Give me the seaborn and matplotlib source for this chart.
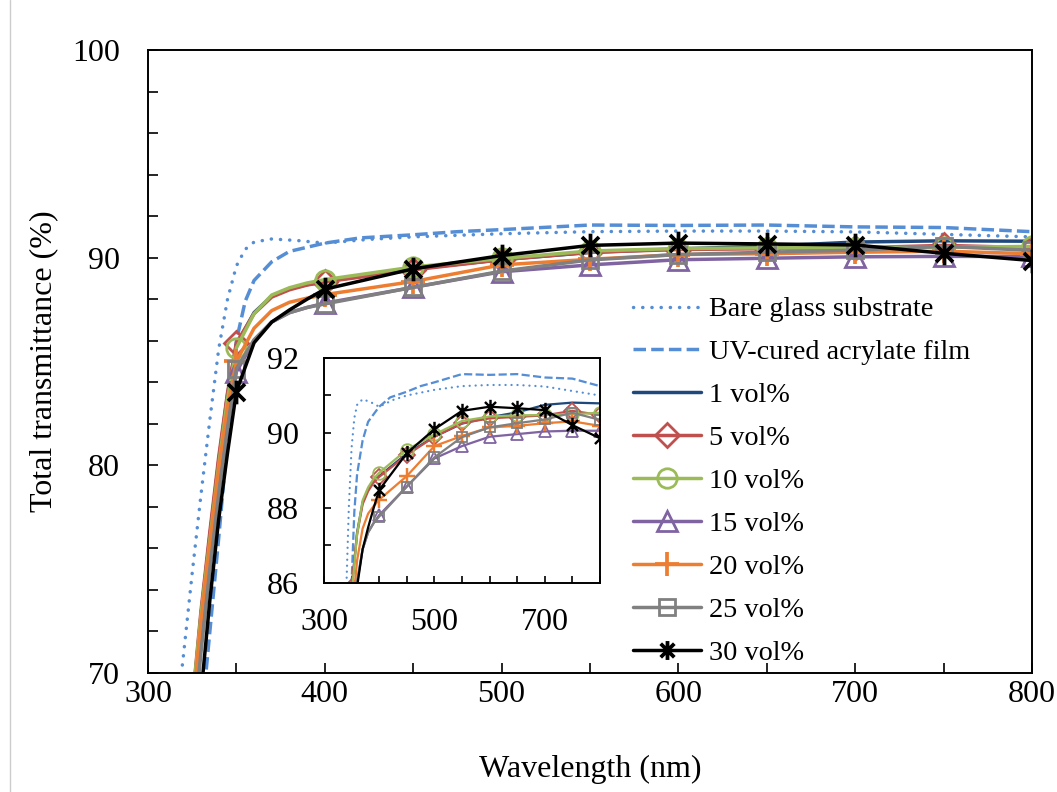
import matplotlib
matplotlib.use("Agg")
import matplotlib.pyplot as plt
import seaborn as sns
from matplotlib.path import Path
from matplotlib.lines import Line2D
from matplotlib.ticker import MultipleLocator, FixedLocator

# wavelengths (nm) shared by the coated samples
wavelength = [320, 325, 330, 335, 340, 345, 350, 360, 370, 380, 390, 400,
              450, 500, 550, 600, 650, 700, 750, 800]

vol1 = [60.0, 68.3, 72.8, 76.6, 80.2, 83.4, 85.8, 87.35, 88.15, 88.5, 88.7, 88.85,
        89.45, 89.9, 90.25, 90.42, 90.55, 90.75, 90.81, 90.79]
vol5 = [60.0, 68.5, 73.0, 76.8, 80.4, 83.5, 85.9, 87.3, 88.1, 88.45, 88.68, 88.83,
        89.41, 89.9, 90.26, 90.39, 90.43, 90.47, 90.59, 90.48]
vol10 = [60.5, 68.5, 72.8, 76.4, 80.0, 83.2, 85.65, 87.3, 88.2, 88.55, 88.78, 88.94,
         89.55, 89.96, 90.32, 90.44, 90.47, 90.48, 90.5, 90.54]
vol15 = [59.0, 67.0, 71.5, 75.2, 78.8, 81.9, 84.5, 86.0, 86.9, 87.35, 87.6, 87.81,
         88.57, 89.32, 89.65, 89.9, 89.97, 90.04, 90.06, 90.06]
vol20 = [62.0, 68.0, 72.5, 76.2, 79.8, 82.8, 85.0, 86.6, 87.45, 87.85, 88.05, 88.22,
         88.85, 89.65, 89.92, 90.15, 90.19, 90.26, 90.31, 90.19]
vol25 = [58.5, 66.5, 71.0, 75.0, 78.6, 81.8, 84.65, 86.05, 86.9, 87.35, 87.6, 87.77,
         88.57, 89.35, 89.89, 90.15, 90.26, 90.36, 90.54, 90.35]
vol30 = [59.0, 64.5, 69.0, 73.5, 77.4, 80.6, 83.55, 85.9, 86.9, 87.48, 88.0, 88.48,
         89.46, 90.1, 90.59, 90.7, 90.66, 90.61, 90.21, 89.86]

bare_wl = [310, 315, 320, 325, 330, 335, 340, 345, 350, 355, 360, 370, 385, 400,
           425, 450, 500, 550, 600, 650, 700, 750, 800]
bare_glass = [63.5, 67.0, 70.8, 74.8, 78.6, 82.2, 85.6, 88.0, 89.6, 90.4, 90.75, 90.9,
              90.82, 90.7, 90.88, 91.0, 91.15, 91.25, 91.28, 91.28, 91.24, 91.12, 91.0]

uv_wl = [320, 325, 330, 335, 340, 345, 350, 355, 360, 370, 380, 400, 420, 450,
         475, 500, 550, 600, 650, 700, 750, 800]
uv_film = [57.5, 62.5, 67.5, 72.0, 76.5, 81.3, 86.0, 87.9, 88.9, 89.8, 90.3, 90.7,
           90.95, 91.1, 91.25, 91.35, 91.57, 91.55, 91.57, 91.48, 91.45, 91.25]

labels = ["Bare glass substrate", "UV-cured acrylate film", "1 vol%", "5 vol%",
          "10 vol%", "15 vol%", "20 vol%", "25 vol%", "30 vol%"]

# Excel style asterisk: vertical bar plus an X
asterisk = Path([(0, -1), (0, 1), (-0.72, -0.72), (0.72, 0.72), (-0.72, 0.72), (0.72, -0.72)],
                [Path.MOVETO, Path.LINETO] * 3)

mark_idx = [i for i, w in enumerate(wavelength) if w >= 350 and w % 50 == 0]
DOTS = (0, (0.05, 2.6))

series = [
    (bare_wl, bare_glass, "#558ED5", None, 0, DOTS),
    (uv_wl, uv_film, "#558ED5", None, 0, (0, (3.6, 1.5))),
    (wavelength, vol1, "#1F497D", None, 0, "-"),
    (wavelength, vol5, "#C0504D", "D", 12, "-"),
    (wavelength, vol10, "#9BBB59", "o", 14, "-"),
    (wavelength, vol15, "#8064A2", "^", 14, "-"),
    (wavelength, vol20, "#ED7D31", "+", 17, "-"),
    (wavelength, vol25, "#808080", "s", 11, "-"),
    (wavelength, vol30, "black", asterisk, 17, "-"),
]


def style(color, marker, ms, ls, scale):
    kw = dict(color=color, lw=2.5 * scale, linestyle=ls,
              dash_capstyle="round" if ls == DOTS else "butt")
    if marker is not None:
        kw.update(marker=marker, markersize=ms * scale, markerfacecolor="none",
                  markeredgecolor=color,
                  markeredgewidth=(2.7 if marker in ("+", asterisk) else 2.0) * scale)
    return kw


def draw(ax, scale):
    for x, y, color, marker, ms, ls in series:
        kw = style(color, marker, ms, ls, scale)
        if marker is not None:
            kw["markevery"] = mark_idx
        sns.lineplot(x=x, y=y, ax=ax, errorbar=None, sort=False, legend=False, **kw)


sns.set_theme(style="ticks", rc={"axes.edgecolor": "black", "text.color": "black",
                                 "xtick.color": "black", "ytick.color": "black",
                                 "axes.labelcolor": "black"})
plt.rcParams["font.family"] = ["Liberation Serif", "DejaVu Serif"]

fig = plt.figure(figsize=(10.57, 7.92), dpi=100)
ax = fig.add_axes([0.1400, 0.1503, 0.8363, 0.7866])
draw(ax, 1.0)

ax.set_xlim(300, 800)
ax.set_ylim(70, 100)
ax.xaxis.set_major_locator(MultipleLocator(100))
ax.xaxis.set_minor_locator(MultipleLocator(50))
ax.yaxis.set_major_locator(MultipleLocator(10))
ax.yaxis.set_minor_locator(MultipleLocator(2))
ax.tick_params(which="both", direction="in", length=7, width=1.2,
               top=False, right=False, labelsize=23)
ax.tick_params(axis="y", pad=20)
ax.tick_params(axis="x", pad=5)
for sp in ax.spines.values():
    sp.set_linewidth(1.4)
ax.set_xlabel("Wavelength (nm)", fontsize=23, labelpad=33)
ax.set_ylabel("Total transmittance (%)", fontsize=23, labelpad=10)

# legend markers are drawn a little smaller than in the plot
handles = [Line2D([], [], **style(c, m, ms * (0.8 if m is asterisk else 1.0), ls, 1.0))
           for _, _, c, m, ms, ls in series]
ax.legend(handles, labels, loc="upper left", bbox_to_anchor=(0.5487, 0.604),
          frameon=False, fontsize=20.3, handlelength=2.4, handletextpad=0.3,
          labelspacing=0.61, borderpad=0, borderaxespad=0)

# inset
ins = fig.add_axes([0.3065, 0.2639, 0.2611, 0.2841])
ins.set_facecolor("white")
draw(ins, 0.65)
ins.set_xlim(300, 800)
ins.set_ylim(86, 92)
ins.xaxis.set_major_locator(FixedLocator([300, 500, 700]))
ins.xaxis.set_minor_locator(MultipleLocator(50))
ins.yaxis.set_major_locator(MultipleLocator(2))
ins.yaxis.set_minor_locator(MultipleLocator(1))
ins.tick_params(which="both", direction="in", length=5, width=1.2,
                top=False, right=False, labelsize=23, pad=18)
for sp in ins.spines.values():
    sp.set_linewidth(1.4)
ins.set_xlabel("")
ins.set_ylabel("")

fig.add_artist(Line2D([10 / 1057, 10 / 1057], [0, 1], color="#cccccc", lw=1,
                      transform=fig.transFigure))

fig.savefig("out.png", dpi=100)
plt.close(fig)
